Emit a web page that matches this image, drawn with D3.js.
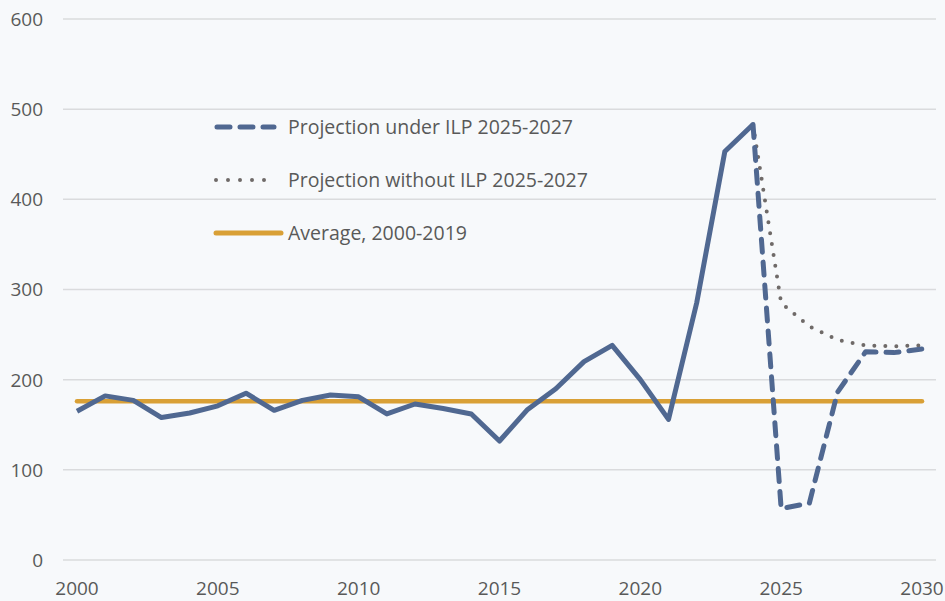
<!DOCTYPE html>
<html>
<head>
<meta charset="utf-8">
<script src="https://cdn.jsdelivr.net/npm/d3@7"></script>
<style>
  html, body { margin: 0; padding: 0; background: #f7f9fb; }
  svg { display: block; font-family: "Open Sans", "Noto Sans", sans-serif; }
</style>
</head>
<body>
<div id="chart"></div>
<script>
  // historical values 2000-2024
  var histYears = d3.range(2000, 2025);
  var histValues = [165, 182, 177, 158, 163, 171, 185, 166, 177, 183,
                    181, 162, 173, 168, 162, 132, 167, 190, 220, 238,
                    200, 156, 285, 453, 483];

  var projYears = d3.range(2024, 2031);
  var underIlp   = [483, 57, 63, 186, 231, 230, 234];
  var withoutIlp = [483, 285, 259, 244, 238, 237, 238];

  var avgYears = [2000, 2030];
  var avgValue = 176;

  var yTicks = [0, 100, 200, 300, 400, 500, 600];
  var xTicks = [2000, 2005, 2010, 2015, 2020, 2025, 2030];

  var legendLabels = ["Projection under ILP 2025-2027", "Projection without ILP 2025-2027", "Average, 2000-2019"];

  var width = 945, height = 601;
  var blue = "#506891", gold = "#d9a036", grey = "#6f6a68";

  var svg = d3.select("#chart").append("svg")
    .attr("width", width)
    .attr("height", height);

  var x = d3.scaleLinear().domain([2000, 2030]).range([77, 922]);
  var y = d3.scaleLinear().domain([0, 600]).range([560, 19]);

  // gridlines
  svg.append("g")
    .selectAll("line")
    .data(yTicks)
    .enter()
    .append("line")
    .attr("x1", 63)
    .attr("x2", 936)
    .attr("y1", function(d){ return y(d); })
    .attr("y2", function(d){ return y(d); })
    .attr("stroke", "#dadbdd")
    .attr("stroke-width", 1.5);

  // y labels
  svg.append("g")
    .selectAll("text")
    .data(yTicks)
    .enter()
    .append("text")
    .attr("x", 43)
    .attr("y", function(d){ return y(d); })
    .attr("dy", "0.36em")
    .attr("text-anchor", "end")
    .attr("fill", "#595959")
    .attr("font-size", 19)
    .text(function(d){ return d; });

  // x labels
  svg.append("g")
    .selectAll("text")
    .data(xTicks)
    .enter()
    .append("text")
    .attr("x", function(d){ return x(d); })
    .attr("y", 595)
    .attr("text-anchor", "middle")
    .attr("fill", "#595959")
    .attr("font-size", 19)
    .text(function(d){ return d; });

  var line = d3.line()
    .x(function(d){ return x(d[0]); })
    .y(function(d){ return y(d[1]); });

  // average
  svg.append("path")
    .datum(avgYears.map(function(yr){ return [yr, avgValue]; }))
    .attr("d", line)
    .attr("fill", "none")
    .attr("stroke", gold)
    .attr("stroke-width", 4.5)
    .attr("stroke-linecap", "round");

  // without ILP (dotted)
  svg.append("path")
    .datum(d3.zip(projYears, withoutIlp))
    .attr("d", line)
    .attr("fill", "none")
    .attr("stroke", grey)
    .attr("stroke-width", 4)
    .attr("stroke-linecap", "round")
    .attr("stroke-dasharray", "0 11");

  // under ILP (dashed)
  svg.append("path")
    .datum(d3.zip(projYears, underIlp))
    .attr("d", line)
    .attr("fill", "none")
    .attr("stroke", blue)
    .attr("stroke-width", 5)
    .attr("stroke-linecap", "round")
    .attr("stroke-linejoin", "round")
    .attr("stroke-dasharray", "13 10");

  // historical (solid)
  svg.append("path")
    .datum(d3.zip(histYears, histValues))
    .attr("d", line)
    .attr("fill", "none")
    .attr("stroke", blue)
    .attr("stroke-width", 5)
    .attr("stroke-linejoin", "round");

  // legend
  var legend = svg.append("g");
  var rowY = [127, 180, 233];
  var styles = [
    {stroke: blue, width: 5, dash: "13 10", x1: 217, x2: 274},
    {stroke: grey, width: 4, dash: "0 12", x1: 216, x2: 276},
    {stroke: gold, width: 5, dash: null, x1: 216, x2: 281}
  ];

  legendLabels.forEach(function(label, i){
    var s = styles[i];
    legend.append("line")
      .attr("x1", s.x1).attr("x2", s.x2)
      .attr("y1", rowY[i]).attr("y2", rowY[i])
      .attr("stroke", s.stroke)
      .attr("stroke-width", s.width)
      .attr("stroke-linecap", "round")
      .attr("stroke-dasharray", s.dash);
    legend.append("text")
      .attr("x", 288)
      .attr("y", rowY[i])
      .attr("dy", "0.35em")
      .attr("fill", "#595959")
      .attr("font-size", 19.5)
      .text(label);
  });
</script>
</body>
</html>
